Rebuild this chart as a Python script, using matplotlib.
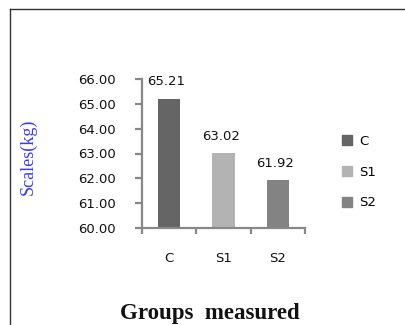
import matplotlib
matplotlib.use("Agg")
import matplotlib.pyplot as plt
from matplotlib.lines import Line2D

categories = ["C", "S1", "S2"]
values = [65.21, 63.02, 61.92]
colors = ["#656565", "#b3b3b3", "#838383"]
yticks = [60, 61, 62, 63, 64, 65, 66]

fig = plt.figure(figsize=(4.05, 3.25), dpi=100)
ax = fig.add_axes([142/405, 1-228/325, 163/405, 149/325])

x = list(range(len(categories)))
bars = ax.bar(x, [v - 60 for v in values], bottom=60, width=0.41, color=colors, label=categories)

for xi, v in zip(x, values):
    ax.annotate(f"{v:.2f}", (xi, v), xytext=(-2, 12), textcoords="offset points",
                ha="center", va="center", fontsize=9.5, color="#111111")

ax.set_xlim(-0.5, 2.5)
ax.set_ylim(60, 66)
ax.set_yticks(yticks)
ax.set_yticklabels([f"{t:.2f}" for t in yticks])
ax.set_xticks([-0.5, 0.5, 1.5, 2.5])
ax.set_xticklabels([])
ax.set_xticks(x, minor=True)
ax.set_xticklabels(categories, minor=True)

axis_c = "#888888"
for s in ["top", "right"]:
    ax.spines[s].set_visible(False)
for s in ["left", "bottom"]:
    ax.spines[s].set_color(axis_c)
    ax.spines[s].set_linewidth(1.6)
ax.tick_params(axis="y", which="major", length=5, width=1.6, color=axis_c, pad=14,
               labelsize=9.5, labelcolor="#111111")
ax.tick_params(axis="x", which="major", length=4, width=1.6, color=axis_c)
ax.tick_params(axis="x", which="minor", length=0, pad=17, labelsize=9.5, labelcolor="#111111")

fig.text(28/405, 1-157/325, "Scales(kg)", rotation=90, ha="center", va="center",
         color="#3a3aff", fontsize=13, family="Liberation Serif")
fig.text(210/405, 1-313/325, "Groups  measured", ha="center", va="center",
         fontsize=16.5, fontweight="bold", family="Liberation Serif", color="#111111")

handles = [plt.Rectangle((0, 0), 1, 1, color=c) for c in colors]
fig.legend(handles, categories, loc="center left", bbox_to_anchor=(330/405, 1-172/325),
           frameon=False, fontsize=9.5, handlelength=0.8, handleheight=0.8,
           labelspacing=1.35, handletextpad=0.5)

fig.add_artist(Line2D([10/405, 10/405], [0, 1-9/325], color="#333333", lw=1))
fig.add_artist(Line2D([10/405, 1], [1-9/325, 1-9/325], color="#333333", lw=1))

fig.savefig("out.png", dpi=100)
